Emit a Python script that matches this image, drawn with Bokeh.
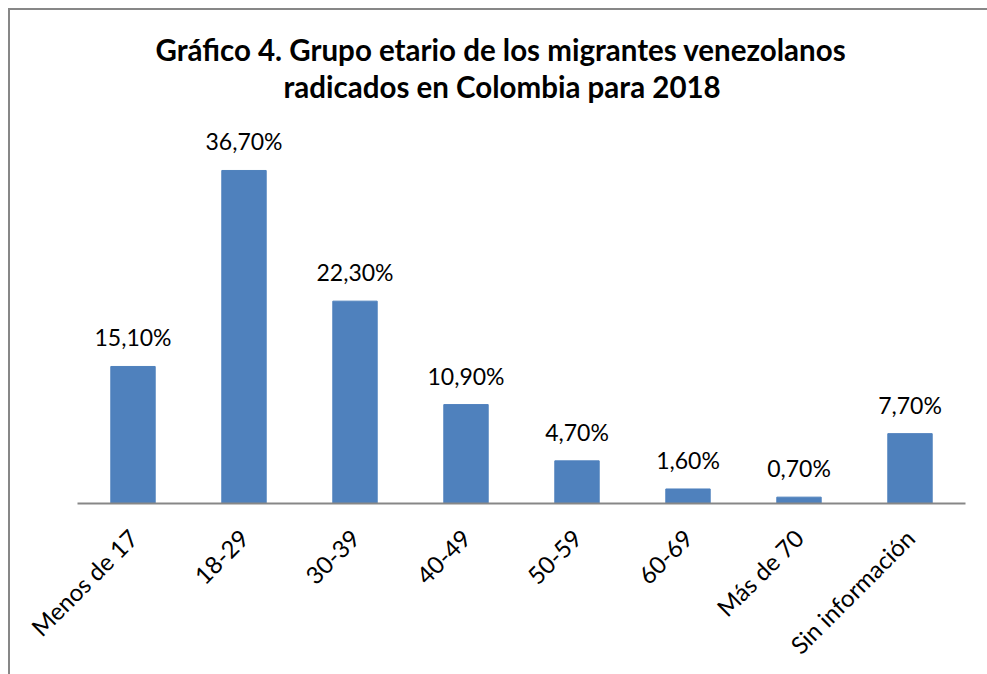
from bokeh.plotting import figure
from bokeh.models import ColumnDataSource, Range1d, FactorRange, Title
from bokeh.core.properties import value
from bokeh.embed import file_html
from bokeh.resources import INLINE
import math

categories = ["Menos de 17", "18-29", "30-39", "40-49", "50-59", "60-69", "Más de 70", "Sin información"]
values = [15.1, 36.7, 22.3, 10.9, 4.7, 1.6, 0.7, 7.7]
labels = ["15,10%", "36,70%", "22,30%", "10,90%", "4,70%", "1,60%", "0,70%", "7,70%"]
title_lines = ["Gráfico 4. Grupo etario de los migrantes venezolanos",
               "radicados en Colombia para 2018"]

src = ColumnDataSource(dict(cat=categories, val=values, lab=labels))

p = figure(x_range=FactorRange(*categories, range_padding=0), y_range=Range1d(0, 44.08),
           width=987, height=674, output_backend="svg", toolbar_location=None,
           min_border_left=77, min_border_right=22, min_border_top=103, min_border_bottom=171)
p.border_fill_color = None
p.styles = {"background": ("linear-gradient(#878787, #878787) 8px 8px / 2px 100% no-repeat, "
                           "linear-gradient(#878787, #878787) 8px 8px / 100% 2px no-repeat, white")}

p.vbar(x="cat", top="val", width=0.4, source=src, fill_color="#4F81BD", line_color="#4F81BD")
p.text(x="cat", y="val", text="lab", source=src, text_align="center", text_baseline="alphabetic",
       y_offset=-29, text_font=value("Lato"), text_font_size="23px", text_color="black")

p.yaxis.visible = False
p.xgrid.visible = False
p.ygrid.visible = False
p.outline_line_color = None
ax = p.xaxis[0]
ax.axis_line_color = "#878787"
ax.axis_line_width = 2
ax.major_tick_line_color = None
ax.minor_tick_line_color = None
ax.major_label_orientation = math.pi / 4
ax.major_label_standoff = 24
ax.major_label_text_font = "Lato"
ax.major_label_text_font_size = "24px"
ax.major_label_text_color = "black"

for txt, off in zip(reversed(title_lines), [206, 78]):
    p.add_layout(Title(text=txt, align="left", offset=off, standoff=0,
                       text_font="Lato", text_font_style="bold",
                       text_font_size="29.5px", text_color="black"), "above")

open("out.html", "w").write(file_html(p, INLINE))
